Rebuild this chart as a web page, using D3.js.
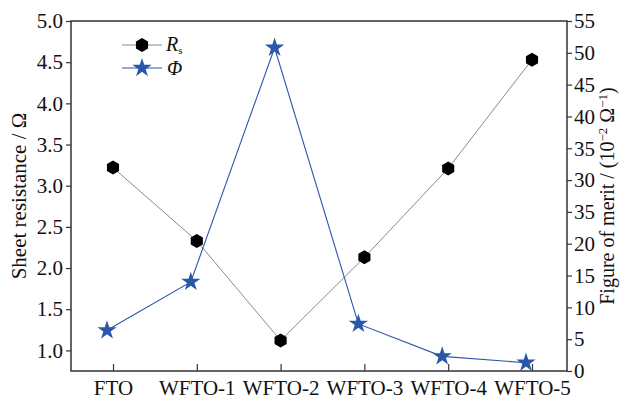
<!DOCTYPE html>
<html>
<head>
<meta charset="utf-8">
<script src="https://cdn.jsdelivr.net/npm/d3@7"></script>
<style>
  html, body { margin: 0; padding: 0; background: #fff; }
  text { font-family: 'Liberation Serif', 'Times New Roman', serif; fill: #111; }
</style>
</head>
<body>
<script>
const samples = ['FTO', 'WFTO-1', 'WFTO-2', 'WFTO-3', 'WFTO-4', 'WFTO-5'];
const sheetResistance = [3.22, 2.33, 1.12, 2.13, 3.21, 4.53];
const figureOfMerit = [6.4, 14.0, 50.8, 7.4, 2.3, 1.3];
const leftTicks = [1.0, 1.5, 2.0, 2.5, 3.0, 3.5, 4.0, 4.5, 5.0];
const rightTicks = [0, 5, 10, 15, 20, 25, 30, 35, 40, 45, 50, 55];
const rightTickLabels = ['0', '5', '10', '15', '20', '35', '30', '35', '40', '45', '50', '55'];

const width = 622;
const height = 402;
const margin = { top: 21, right: 55, bottom: 31, left: 71 };
const plotRight = width - margin.right;
const plotBottom = height - margin.bottom;
const fontSize = 21;

const svg = d3.select('body')
  .append('svg')
  .attr('width', width)
  .attr('height', height);

const x = d3.scalePoint(samples, [113, 532]);
const yLeft = d3.scaleLinear([0.75, 5.0], [plotBottom, margin.top]);
const yRight = d3.scaleLinear([0, 55], [plotBottom, margin.top]);

const frameColor = '#333';

// axes
const leftAxis = d3.axisLeft(yLeft)
  .tickValues(leftTicks)
  .tickFormat(d3.format('.1f'))
  .tickSize(5)
  .tickPadding(3)
  .tickSizeOuter(0);

const rightAxis = d3.axisRight(yRight)
  .tickValues(rightTicks)
  .tickFormat((d, i) => rightTickLabels[i])
  .tickSize(5)
  .tickPadding(2)
  .tickSizeOuter(0);

const bottomAxis = d3.axisBottom(x)
  .tickSize(-7)
  .tickPadding(9)
  .tickSizeOuter(0);

function styleAxis(g) {
  g.select('.domain').remove();
  g.selectAll('.tick line').attr('stroke', frameColor).attr('stroke-width', 1.2);
  g.selectAll('.tick text')
    .attr('font-family', "'Liberation Serif', 'Times New Roman', serif")
    .attr('font-size', fontSize)
    .attr('fill', '#111');
}

svg.append('g')
  .attr('transform', `translate(${margin.left},0)`)
  .call(leftAxis)
  .call(styleAxis);

svg.append('g')
  .attr('transform', `translate(${plotRight},0)`)
  .call(rightAxis)
  .call(styleAxis);

svg.append('g')
  .attr('transform', `translate(0,${plotBottom})`)
  .call(bottomAxis)
  .call(styleAxis);

// frame
svg.append('rect')
  .attr('x', margin.left)
  .attr('y', margin.top)
  .attr('width', plotRight - margin.left)
  .attr('height', plotBottom - margin.top)
  .attr('fill', 'none')
  .attr('stroke', frameColor)
  .attr('stroke-width', 1.5);

// axis titles
svg.append('text')
  .attr('transform', `translate(26,${(margin.top + plotBottom) / 2}) rotate(-90)`)
  .attr('text-anchor', 'middle')
  .attr('font-size', fontSize)
  .text('Sheet resistance / Ω');

const rightTitle = svg.append('text')
  .attr('transform', `translate(614,${(margin.top + plotBottom) / 2}) rotate(-90)`)
  .attr('text-anchor', 'middle')
  .attr('font-size', 20);
rightTitle.append('tspan').text('Figure of merit / (10');
rightTitle.append('tspan').attr('dy', -7).attr('font-size', 13).text('−2');
rightTitle.append('tspan').attr('dy', 7).text(' Ω');
rightTitle.append('tspan').attr('dy', -7).attr('font-size', 13).text('−1');
rightTitle.append('tspan').attr('dy', 7).text(')');

// markers
const hexR = 7;
const hexPath = d3.range(6).map(i => {
  const a = Math.PI / 3 * i - Math.PI / 2;
  return [hexR * Math.cos(a), hexR * Math.sin(a)];
});
const hexagon = 'M' + hexPath.map(p => p.join(',')).join('L') + 'Z';
const star = d3.symbol(d3.symbolStar, 115)();

const rsColor = '#8a8a8a';
const phiColor = '#2b57a7';
const starShift = -6;

const rsLine = d3.line()
  .x((d, i) => x(samples[i]))
  .y(d => yLeft(d));

const phiLine = d3.line()
  .x((d, i) => x(samples[i]) + starShift)
  .y(d => yRight(d));

svg.append('path')
  .datum(sheetResistance)
  .attr('d', rsLine)
  .attr('fill', 'none')
  .attr('stroke', rsColor)
  .attr('stroke-width', 1);

svg.append('path')
  .datum(figureOfMerit)
  .attr('d', phiLine)
  .attr('fill', 'none')
  .attr('stroke', phiColor)
  .attr('stroke-width', 1.1);

svg.selectAll('.rs-point')
  .data(sheetResistance)
  .enter()
  .append('path')
  .attr('class', 'rs-point')
  .attr('d', hexagon)
  .attr('transform', (d, i) => `translate(${x(samples[i])},${yLeft(d)})`)
  .attr('fill', '#000');

svg.selectAll('.phi-point')
  .data(figureOfMerit)
  .enter()
  .append('path')
  .attr('class', 'phi-point')
  .attr('d', star)
  .attr('transform', (d, i) => `translate(${x(samples[i]) + starShift},${yRight(d)})`)
  .attr('fill', phiColor);

// legend
const legend = svg.append('g').attr('transform', 'translate(122,45)');
legend.append('line')
  .attr('x1', 0).attr('x2', 40).attr('y1', 0).attr('y2', 0)
  .attr('stroke', rsColor).attr('stroke-width', 1);
legend.append('path')
  .attr('d', hexagon)
  .attr('transform', 'translate(20,0)')
  .attr('fill', '#000');
const rsText = legend.append('text')
  .attr('x', 44).attr('y', 6)
  .attr('font-size', 20);
rsText.append('tspan').attr('font-style', 'italic').text('R');
rsText.append('tspan').attr('font-size', 11).attr('dy', 3).text('s');

legend.append('line')
  .attr('x1', 0).attr('x2', 40).attr('y1', 23).attr('y2', 23)
  .attr('stroke', phiColor).attr('stroke-width', 1.1);
legend.append('path')
  .attr('d', star)
  .attr('transform', 'translate(20,23)')
  .attr('fill', phiColor);
legend.append('text')
  .attr('x', 45).attr('y', 30)
  .attr('font-size', 20)
  .attr('font-style', 'italic')
  .text('Φ');
</script>
</body>
</html>
